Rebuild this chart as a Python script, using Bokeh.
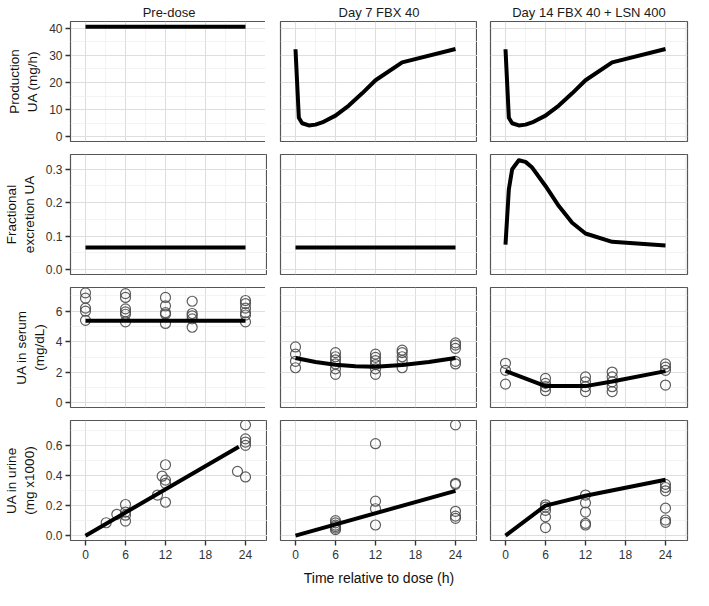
from bokeh.plotting import figure
from bokeh.layouts import gridplot
from bokeh.models import FixedTicker, NumeralTickFormatter, Range1d
from bokeh.embed import file_html
from bokeh.resources import INLINE

# ---------------- data ----------------
columns = ["Pre-dose", "Day 7 FBX 40", "Day 14 FBX 40 + LSN 400"]
row_labels = ["Production\nUA (mg/h)", "Fractional\nexcretion UA",
              "UA in serum\n(mg/dL)", "UA in urine\n(mg x1000)"]
x_label = "Time relative to dose (h)"
x_ticks = [0, 6, 12, 18, 24]
x_minor = [3, 9, 15, 21, 27]

# Row 1: production of uric acid (mg/h)
prod_pre_t = [0, 24]
prod_pre_v = [40.5, 40.5]
prod_t = [0, 0.5, 1, 2, 3, 4, 6, 8, 10, 12, 16, 24]
prod_d7_v = [32.2, 7.0, 5.0, 4.2, 4.5, 5.3, 7.8, 11.5, 16.0, 20.8, 27.4, 32.3]
prod_d14_v = [32.2, 7.0, 5.0, 4.2, 4.5, 5.3, 7.8, 11.5, 16.0, 20.8, 27.4, 32.3]

# Row 2: fractional excretion
fe_pre_t = [0, 24]
fe_pre_v = [0.066, 0.066]
fe_d7_t = [0, 24]
fe_d7_v = [0.066, 0.066]
fe_d14_t = [0, 0.5, 1, 2, 3, 4, 6, 8, 10, 12, 16, 24]
fe_d14_v = [0.075, 0.24, 0.30, 0.327, 0.322, 0.305, 0.25, 0.19, 0.14, 0.108, 0.083, 0.072]

# Row 3: serum uric acid (mg/dL)
ser_pre_line_t = [0, 24]
ser_pre_line_v = [5.38, 5.38]
ser_pre_obs_t = [0, 0, 0, 0, 0,
                 6, 6, 6, 6, 6, 6,
                 12, 12, 12, 12, 12,
                 16, 16, 16, 16, 16,
                 24, 24, 24, 24, 24, 24]
ser_pre_obs_v = [7.2, 6.85, 6.2, 6.0, 5.4,
                 7.15, 6.9, 6.15, 5.95, 5.8, 5.3,
                 6.9, 6.35, 5.9, 5.8, 5.2,
                 6.65, 5.85, 5.7, 5.5, 4.95,
                 6.7, 6.5, 6.2, 5.9, 5.75, 5.3]
ser_d7_line_t = [0, 3, 6, 9, 12, 16, 20, 24]
ser_d7_line_v = [2.94, 2.68, 2.5, 2.4, 2.36, 2.48, 2.68, 2.94]
ser_d7_obs_t = [0, 0, 0, 0,
                6, 6, 6, 6, 6, 6,
                12, 12, 12, 12, 12, 12,
                16, 16, 16, 16, 16,
                24, 24, 24, 24, 24]
ser_d7_obs_v = [3.66, 3.19, 2.72, 2.3,
                3.29, 3.02, 2.81, 2.55, 2.23, 1.87,
                3.19, 2.98, 2.76, 2.51, 2.23, 1.87,
                3.45, 3.29, 3.02, 2.76, 2.3,
                3.93, 3.78, 3.57, 2.72, 2.55]
ser_d14_line_t = [0, 6, 12, 16, 24]
ser_d14_line_v = [2.1, 1.1, 1.1, 1.4, 2.08]
ser_d14_obs_t = [0, 0, 0,
                 6, 6, 6, 6,
                 12, 12, 12, 12,
                 16, 16, 16, 16, 16,
                 24, 24, 24, 24]
ser_d14_obs_v = [2.59, 2.13, 1.23,
                 1.6, 1.28, 1.06, 0.8,
                 1.7, 1.38, 1.06, 0.74,
                 2.02, 1.7, 1.38, 1.06, 0.74,
                 2.55, 2.34, 2.13, 1.17]

# Row 4: cumulative urinary uric acid (mg x1000)
uri_pre_line_t = [0, 23]
uri_pre_line_v = [0.0, 0.59]
uri_pre_obs_t = [3.1, 4.7, 6, 6, 6, 6, 10.8, 11.5, 12, 12, 12, 12, 22.8, 24, 24, 24, 24, 24]
uri_pre_obs_v = [0.086, 0.142, 0.207, 0.157, 0.136, 0.097, 0.27, 0.395, 0.471, 0.369, 0.348,
                 0.222, 0.427, 0.736, 0.643, 0.622, 0.60, 0.39]
uri_d7_line_t = [0, 24]
uri_d7_line_v = [0.0, 0.298]
uri_d7_obs_t = [6, 6, 6, 6, 6, 6, 12, 12, 12, 12, 24, 24, 24, 24, 24, 24]
uri_d7_obs_v = [0.1, 0.085, 0.07, 0.06, 0.05, 0.04, 0.611, 0.229, 0.179, 0.071,
                0.736, 0.348, 0.341, 0.162, 0.13, 0.115]
uri_d14_line_t = [0, 6, 12, 24]
uri_d14_line_v = [0.0, 0.2, 0.265, 0.372]
uri_d14_obs_t = [6, 6, 6, 6, 6, 12, 12, 12, 12, 12, 24, 24, 24, 24, 24, 24]
uri_d14_obs_v = [0.205, 0.19, 0.168, 0.125, 0.054, 0.27, 0.218, 0.157, 0.082, 0.071,
                 0.341, 0.32, 0.298, 0.183, 0.104, 0.089]

# ---------------- panel definitions ----------------
y_ranges = [(-1.7, 42.4), (-0.0145, 0.344), (-0.3, 7.55), (-0.032, 0.765)]
y_ticks = [[0, 10, 20, 30, 40], [0, 0.1, 0.2, 0.3], [0, 2, 4, 6], [0, 0.2, 0.4, 0.6]]
y_minor = [[5, 15, 25, 35], [0.05, 0.15, 0.25], [1, 3, 5, 7], [0.1, 0.3, 0.5, 0.7]]
y_fmt = ["0", "0.0", "0", "0.0"]

lines = [
    [(prod_pre_t, prod_pre_v), (prod_t, prod_d7_v), (prod_t, prod_d14_v)],
    [(fe_pre_t, fe_pre_v), (fe_d7_t, fe_d7_v), (fe_d14_t, fe_d14_v)],
    [(ser_pre_line_t, ser_pre_line_v), (ser_d7_line_t, ser_d7_line_v), (ser_d14_line_t, ser_d14_line_v)],
    [(uri_pre_line_t, uri_pre_line_v), (uri_d7_line_t, uri_d7_line_v), (uri_d14_line_t, uri_d14_line_v)],
]
points = [
    [None, None, None],
    [None, None, None],
    [(ser_pre_obs_t, ser_pre_obs_v), (ser_d7_obs_t, ser_d7_obs_v), (ser_d14_obs_t, ser_d14_obs_v)],
    [(uri_pre_obs_t, uri_pre_obs_v), (uri_d7_obs_t, uri_d7_obs_v), (uri_d14_obs_t, uri_d14_obs_v)],
]

FONT = "Liberation Sans"
PW, PH = 197, 120
LEFT, GAP_X, BOTTOM = 68, 13, 48

grid = []
for r in range(4):
    row = []
    for c in range(3):
        p = figure(frame_width=PW, frame_height=PH, output_backend="svg",
                   toolbar_location=None,
                   x_range=Range1d(-2.25, 27.3), y_range=Range1d(*y_ranges[r]),
                   min_border_left=LEFT if c == 0 else GAP_X,
                   min_border_right=2 if c == 2 else 0,
                   min_border_top=0 if r == 0 else 7,
                   min_border_bottom=BOTTOM if r == 3 else 6,
                   background_fill_color="white", border_fill_color="white")
        p.outline_line_color = "#555555"
        p.outline_line_width = 1.2
        if r == 0:
            p.title.text = columns[c]
            p.title.align = "center"
            p.title.text_font = FONT
            p.title.text_font_size = "13px"
            p.title.text_font_style = "normal"
            p.title.text_color = "#1A1A1A"
            p.title.offset = 0
            p.title.standoff = 4
        # grids
        p.xaxis.ticker = FixedTicker(ticks=x_ticks, minor_ticks=x_minor)
        p.yaxis.ticker = FixedTicker(ticks=y_ticks[r], minor_ticks=y_minor[r])
        for g in (p.xgrid, p.ygrid):
            g.grid_line_color = "#DEDEDE"
            g.grid_line_width = 1.1
            g.minor_grid_line_color = "#EEEEEE"
            g.minor_grid_line_width = 0.7
        # axes
        for ax in (p.xaxis, p.yaxis):
            ax.axis_line_color = None
            ax.major_tick_line_color = "#333333"
            ax.major_tick_line_width = 1.4
            ax.major_tick_out = 5
            ax.major_tick_in = 0
            ax.minor_tick_line_color = None
            ax.major_label_text_font = FONT
            ax.major_label_text_font_size = "12px"
            ax.major_label_text_color = "#333333"
            ax.axis_label_text_font = FONT
            ax.axis_label_text_font_size = "13.5px"
            ax.axis_label_text_font_style = "normal"
            ax.axis_label_text_color = "#111111"
        p.yaxis.formatter = NumeralTickFormatter(format=y_fmt[r])
        p.xaxis.major_label_standoff = 4
        p.yaxis.major_label_standoff = 3
        if c == 0:
            p.yaxis.axis_label = row_labels[r]
            p.yaxis.axis_label_standoff = 6
        else:
            p.yaxis.visible = False
        if r == 3:
            if c == 1:
                p.xaxis.axis_label = x_label
                p.xaxis.axis_label_standoff = 8
                p.xaxis.axis_label_text_font_size = "14px"
        else:
            p.xaxis.visible = False
        # data
        pts = points[r][c]
        if pts is not None:
            p.scatter(pts[0], pts[1], marker="circle", size=10, fill_color=None,
                      line_color="#4D4D4D", line_width=1.2, line_alpha=0.9)
        lt, lv = lines[r][c]
        p.line(lt, lv, line_color="black", line_width=4, line_cap="butt", line_join="round")
        row.append(p)
    grid.append(row)

layout = gridplot(grid, toolbar_location=None)

with open("out.html", "w") as f:
    f.write(file_html(layout, INLINE))
